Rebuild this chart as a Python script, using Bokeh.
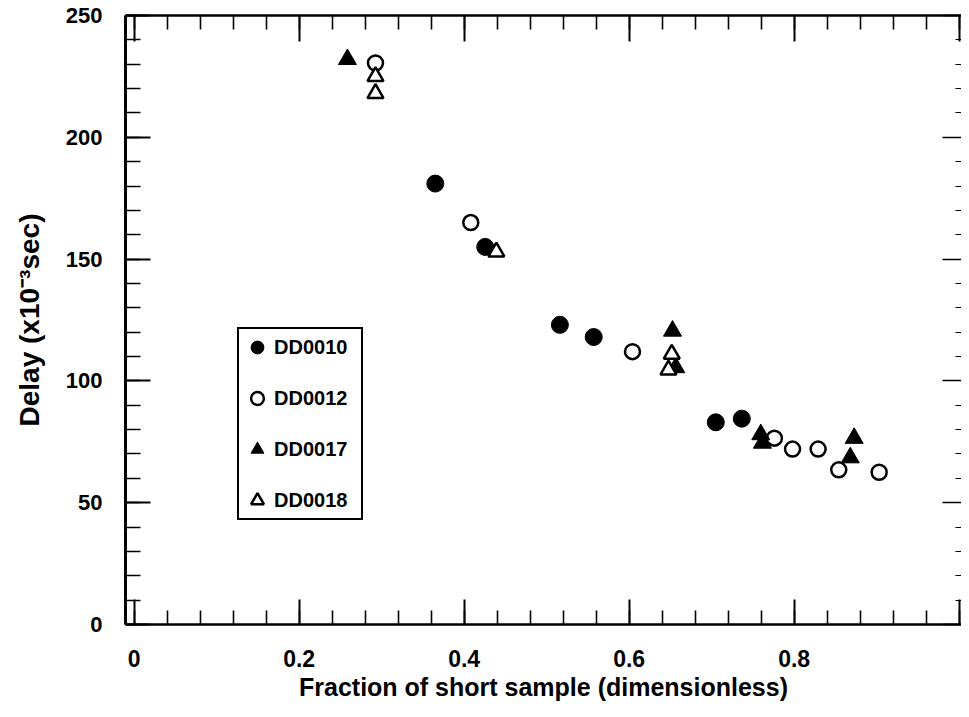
from bokeh.plotting import figure
from bokeh.models import (Range1d, LinearAxis, FixedTicker, Legend, LegendItem,
                          CustomJSTickFormatter)
from bokeh.embed import file_html
from bokeh.resources import INLINE

# ---- data ----
dd0010_x = [0.365, 0.4255, 0.516, 0.557, 0.705, 0.7365]
dd0010_y = [181.0, 155.0, 123.0, 118.0, 83.0, 84.5]

dd0012_x = [0.2925, 0.408, 0.604, 0.776, 0.798, 0.829, 0.854, 0.903]
dd0012_y = [230.5, 165.0, 112.0, 76.5, 72.0, 72.0, 63.5, 62.5]

dd0017_x = [0.2585, 0.6525, 0.6565, 0.7595, 0.7615, 0.8727, 0.868]
dd0017_y = [232.0, 120.5, 105.5, 78.0, 74.5, 76.5, 68.5]

dd0018_x = [0.2925, 0.2925, 0.439, 0.6516, 0.6476]
dd0018_y = [225.0, 218.0, 153.0, 111.0, 104.5]

x_major = [0, 0.2, 0.4, 0.6, 0.8, 1.0]
x_minor = [round(0.04 * i, 2) for i in range(26)]
y_major = [0, 50, 100, 150, 200, 250]
y_minor = list(range(0, 251, 10))

FONT = "Liberation Sans"

p = figure(width=961, height=705, output_backend="svg", toolbar_location=None,
           x_range=Range1d(-0.0105, 1.0028), y_range=Range1d(0, 250),
           x_axis_location=None, y_axis_location=None,
           min_border_left=125, min_border_top=15, min_border_right=0,
           min_border_bottom=81)
p.xgrid.visible = False
p.ygrid.visible = False
p.outline_line_color = None
p.background_fill_color = "white"
p.border_fill_color = "white"


def style(ax, major_in, minor_in, lw):
    ax.major_tick_in = major_in
    ax.major_tick_out = 0
    ax.minor_tick_in = minor_in
    ax.minor_tick_out = 0
    ax.axis_line_width = lw
    ax.axis_line_color = "black"
    ax.major_tick_line_width = 2
    ax.minor_tick_line_width = 1.6
    ax.major_tick_line_color = "black"
    ax.minor_tick_line_color = "black"
    ax.major_label_text_font = FONT
    ax.major_label_text_font_style = "bold"
    ax.major_label_text_color = "black"
    ax.axis_label_text_font = FONT
    ax.axis_label_text_font_style = "bold"
    ax.axis_label_text_color = "black"


xb = LinearAxis(ticker=FixedTicker(ticks=x_major, minor_ticks=x_minor),
                axis_label="Fraction of short sample (dimensionless)")
style(xb, 25, 14, 2.5)
xb.major_label_text_font_size = "23px"
xb.axis_label_text_font_size = "25px"
xb.major_label_standoff = 25
xb.axis_label_standoff = 3
xb.major_label_overrides = {0: "0", 1: ""}
p.add_layout(xb, "below")

yl = LinearAxis(ticker=FixedTicker(ticks=y_major, minor_ticks=y_minor),
                axis_label="Delay (x10\u207b\u00b3sec)")
style(yl, 25, 15, 3)
yl.major_label_text_font_size = "22px"
yl.axis_label_text_font_size = "28px"
yl.major_label_standoff = 23
yl.axis_label_standoff = 18
p.add_layout(yl, "left")

blank = CustomJSTickFormatter(code="return ''")

xt = LinearAxis(ticker=FixedTicker(ticks=x_major, minor_ticks=x_minor),
                formatter=blank)
style(xt, 26, 14, 2.5)
xt.major_label_text_font_size = "1px"
xt.major_label_standoff = 0
p.add_layout(xt, "above")

yr = LinearAxis(ticker=FixedTicker(ticks=y_major, minor_ticks=y_minor),
                formatter=blank)
style(yr, 19, 6, 0)
yr.axis_line_color = None
yr.major_tick_line_width = 1.5
yr.minor_tick_line_width = 1.2
yr.major_label_text_font_size = "1px"
yr.major_label_standoff = 0
p.add_layout(yr, "right")

r10 = p.scatter(dd0010_x, dd0010_y, marker="circle", size=17,
                fill_color="black", line_color="black", line_width=1)
r12 = p.scatter(dd0012_x, dd0012_y, marker="circle", size=15,
                fill_color="white", line_color="black", line_width=2.5)
r17 = p.scatter(dd0017_x, dd0017_y, marker="triangle", size=18,
                fill_color="black", line_color="black", line_width=1)
r18 = p.scatter(dd0018_x, dd0018_y, marker="triangle", size=16,
                fill_color="white", line_color="black", line_width=2.5)

legend = Legend(items=[LegendItem(label="DD0010", renderers=[r10]),
                       LegendItem(label="DD0012", renderers=[r12]),
                       LegendItem(label="DD0017", renderers=[r17]),
                       LegendItem(label="DD0018", renderers=[r18])],
                location=(112, 104))
legend.padding = 2
legend.margin = 0
legend.glyph_width = 32
legend.glyph_height = 32
legend.label_standoff = 1
legend.label_width = 85
legend.spacing = 19
legend.label_text_font = FONT
legend.label_text_font_style = "bold"
legend.label_text_font_size = "20px"
legend.label_text_color = "black"
legend.border_line_color = "black"
legend.border_line_alpha = 1
legend.border_line_width = 2
legend.background_fill_color = "white"
legend.background_fill_alpha = 1
p.add_layout(legend, "center")

open("out.html", "w").write(file_html(p, INLINE))
